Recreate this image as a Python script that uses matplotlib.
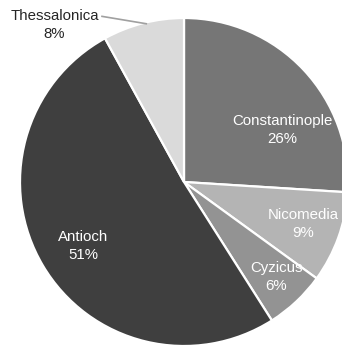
import matplotlib.pyplot as plt

names = ['Constantinople', 'Nicomedia', 'Cyzicus', 'Antioch', 'Thessalonica']
shares = [26, 9, 6, 51, 8]
colors = ['#767676', '#b4b4b4', '#939393', '#3f3f3f', '#dadada']
# label centres, in pie radius units
label_xy = [(0.598, 0.317), (0.726, -0.256), (0.561, -0.579),
            (-0.616, -0.39), (-0.79, 0.955)]
label_col = ['white', 'white', 'white', 'white', '#262626']

plt.rcParams['font.family'] = ['Liberation Sans', 'DejaVu Sans']

W, H = 342, 346
cx, cy, r = 184, 182, 164
fig = plt.figure(figsize=(W / 100, H / 100), dpi=100)
ax = fig.add_axes([0, 0, 1, 1])
ax.pie(shares, colors=colors, startangle=90, counterclock=False,
       radius=1, wedgeprops=dict(edgecolor='white', linewidth=1.6))
ax.set_xlim(-cx / r, (W - cx) / r)
ax.set_ylim(-(H - cy) / r, cy / r)
ax.set_aspect('auto')
ax.axis('off')

for name, v, (x, y), c in zip(names, shares, label_xy, label_col):
    ax.text(x, y, f'{name}\n{v}%', ha='center', va='center', color=c,
            fontsize=10.8, linespacing=1.35)

# leader line for the outside label
ax.plot([-0.5, -0.23], [1.01, 0.965], color='#a0a0a0', lw=1.2)

fig.savefig('out.png', dpi=100)
